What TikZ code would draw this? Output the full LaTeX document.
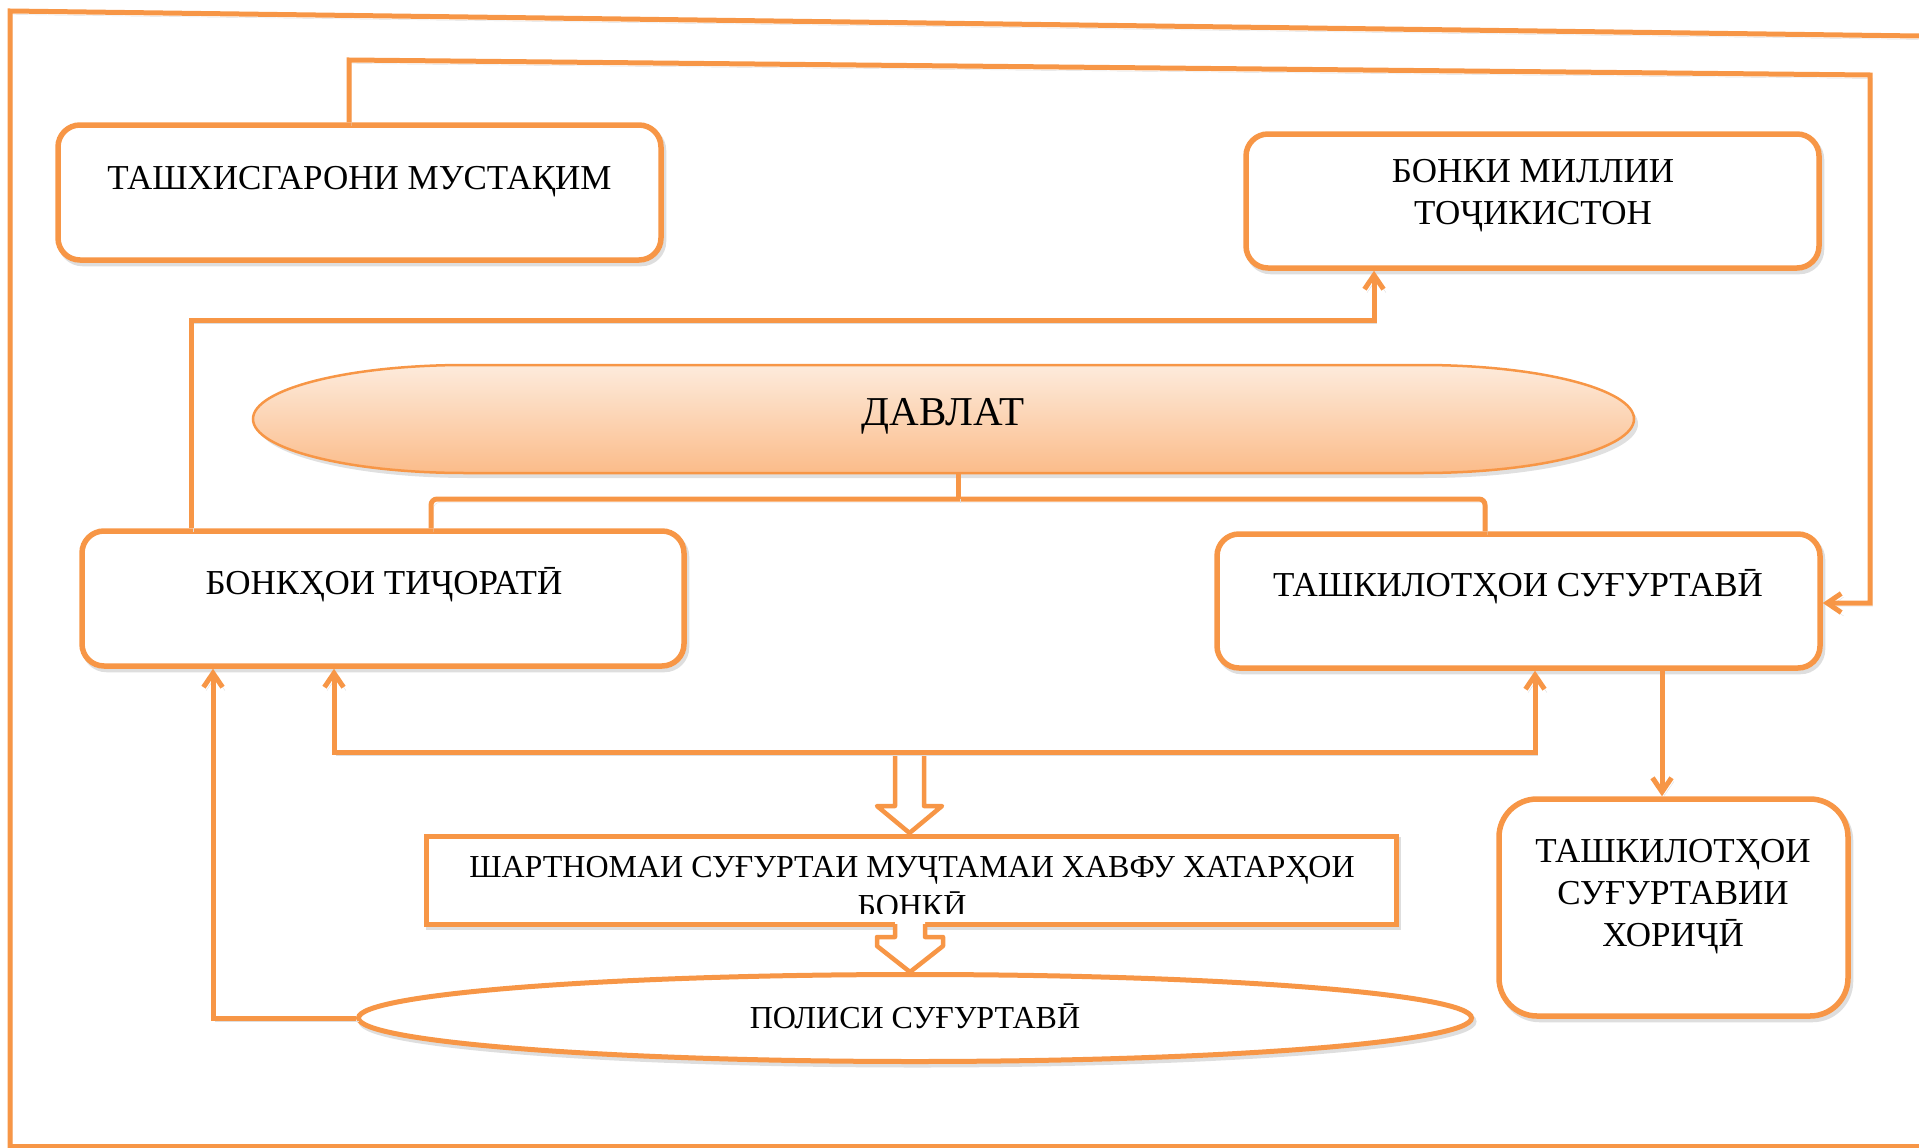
\documentclass[tikz,border=0pt]{standalone}
\usepackage{fontspec}
\setmainfont{Liberation Serif}
\usetikzlibrary{arrows.meta,shapes.geometric,calc}
\definecolor{org}{RGB}{247,150,70}
\definecolor{peachT}{RGB}{253,235,220}
\definecolor{peachB}{RGB}{251,188,138}
\begin{document}
\begin{tikzpicture}[x=1pt,y=-1pt,
  >={Straight Barb[length=14pt,width=19pt]},
  shd/.style={preaction={draw=black!13,transform canvas={xshift=2.5pt,yshift=-3.5pt}}},
  conn/.style={draw=org,line width=5pt,shd},
  rbox/.style={draw=org,line width=5.5pt,rounded corners=22pt,fill=white,inner sep=0pt,shd},
  sbox/.style={draw=org,line width=5pt,fill=white,inner sep=0pt,shd},
  lbl/.style={font=\fontsize{35}{42}\selectfont,align=center,inner sep=0pt,anchor=base},
  slbl/.style={font=\fontsize{32}{39}\selectfont,align=center,inner sep=0pt,anchor=base},
  hol/.style={draw=org,line width=4.5pt,line join=round},
]
\useasboundingbox (0,0) rectangle (1919,1148);
% outer frame
\draw[conn] (1919,36) -- (10,11) -- (10,1150);
\draw[conn] (10,1146) -- (1919,1146);

% boxes
\node[rbox,minimum width=603pt,minimum height=135pt] (tm) at (359.5,192.5) {};
\node[rbox,minimum width=573pt,minimum height=134pt] (bm) at (1532.5,201) {};
\node[rbox,minimum width=602pt,minimum height=135pt] (bt) at (383,598.5) {};
\node[rbox,minimum width=603pt,minimum height=134pt] (ts) at (1518.5,601) {};
\node[rbox,rounded corners=38pt,minimum width=349pt,minimum height=217pt] (fx) at (1673.5,907.5) {};
\node[sbox,minimum width=970pt,minimum height=88pt] (sh) at (911,880) {};
\node[ellipse,draw=org,line width=5pt,fill=white,inner sep=0pt,minimum width=1113pt,minimum height=87pt,shd] (pl) at (915,1018) {};

% DAVLAT shape
\node[inner sep=0pt,minimum width=1380pt,minimum height=108pt] (dv) at (943,419) {};
\fill[black!12] (469,370) -- (1426,370) arc[start angle=-90,end angle=90,x radius=212,y radius=54]
  -- (469,478) arc[start angle=90,end angle=270,x radius=212,y radius=54] -- cycle;
\path[draw=org,line width=2.5pt,top color=peachT,bottom color=peachB]
  (465,365) -- (1422,365) arc[start angle=-90,end angle=90,x radius=212,y radius=54]
  -- (465,473) arc[start angle=90,end angle=270,x radius=212,y radius=54] -- cycle;

% texts
\node[lbl] (tmT) at (359.5,189) {ТАШХИСГАРОНИ МУСТАҚИМ};
\node[lbl] (bmT) at (1533,224) {БОНКИ МИЛЛИИ\\ТОҶИКИСТОН};
\node[lbl,font=\fontsize{41}{46}\selectfont] (dvT) at (943,425) {ДАВЛАТ};
\node[lbl] (btT) at (384,594) {БОНКҲОИ ТИҶОРАТӢ};
\node[lbl] (tsT) at (1518,596) {ТАШКИЛОТҲОИ СУҒУРТАВӢ};
\node[lbl] (fxT) at (1673,946) {ТАШКИЛОТҲОИ\\СУҒУРТАВИИ\\ХОРИҶӢ};
\begin{scope}
\clip (426,836) rectangle (1396,913);
\node[slbl] (shT) at (912,916) {ШАРТНОМАИ СУҒУРТАИ МУҶТАМАИ ХАВФУ ХАТАРҲОИ\\БОНКӢ};
\end{scope}
\node[slbl] (plT) at (915,1028) {ПОЛИСИ СУҒУРТАВӢ};

% connectors
\draw[conn,->] (349,0 |- tm.north) -- (349,60) -- (1870,75) -- (1870,603) -- (ts.east |- 0,603);
\draw[conn,->] (191,0 |- bt.north) -- (191,320) -- (1374,320) -- (1374,0 |- bm.south);
\draw[conn,rounded corners=6pt] (431,0 |- bt.north) -- (431,499) -- (1485,499) -- (1485,0 |- ts.north);
\draw[conn] (958,0 |- dv.south) -- (958,499);
\draw[conn,->] (1662,0 |- ts.south) -- (1662,0 |- fx.north);
\draw[conn,->] (pl.west) -- (213,0 |- pl.west) -- (213,0 |- bt.south);

% hollow arrow 1
\filldraw[hol,fill=white] (895,752) -- (895,806) -- (877,806) -- (909.5,833) -- (942,806) -- (924,806) -- (924,752);
\draw[conn,<->] (334,0 |- bt.south) -- (334,752) -- (1535,752) -- (1535,0 |- ts.south);

% hollow arrow 2
\fill[white] (895,918) -- (895,937) -- (877,937) -- (877,946) -- (910,972) -- (943,946) -- (943,937) -- (925,937) -- (925,918) -- cycle;
\draw[hol] (895,924) -- (895,937) -- (877,937) -- (877,946) -- (910,972) -- (943,946) -- (943,937) -- (925,937) -- (925,924);
\end{tikzpicture}
\end{document}
